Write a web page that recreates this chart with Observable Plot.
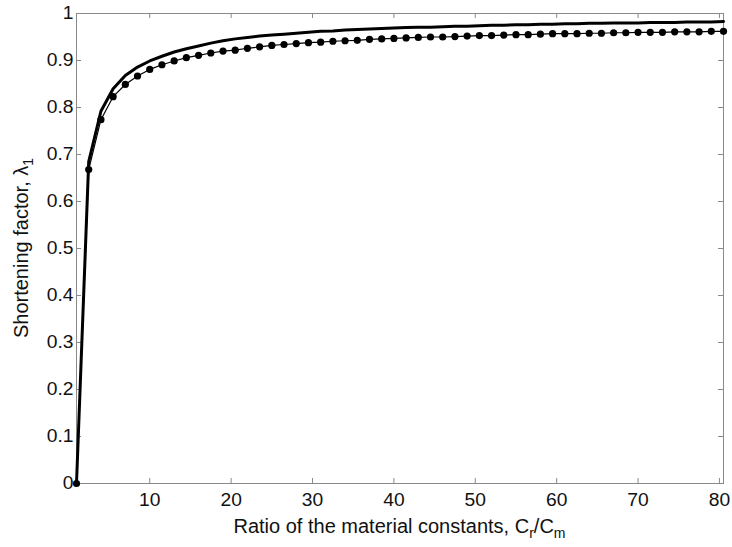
<!DOCTYPE html>
<html><head><meta charset="utf-8">
<script src="https://cdn.jsdelivr.net/npm/d3@7"></script>
<script src="https://cdn.jsdelivr.net/npm/@observablehq/plot@0.6"></script>
<style>body{margin:0;background:#fff}</style>
</head><body><div id="chart"></div>
<script>
const ratio = [1,2.5,4,5.5,7,8.5,10,11.5,13,14.5,16,17.5,19,20.5,22,23.5,25,26.5,28,29.5,31,32.5,34,35.5,37,38.5,40,41.5,43,44.5,46,47.5,49,50.5,52,53.5,55,56.5,58,59.5,61,62.5,64,65.5,67,68.5,70,71.5,73,74.5,76,77.5,79,80.5];
const solidSeries = [0,0.685,0.792,0.840,0.868,0.886,0.899,0.909,0.918,0.925,0.931,0.937,0.942,0.946,0.949,0.952,0.954,0.956,0.958,0.960,0.962,0.963,0.965,0.966,0.967,0.968,0.969,0.970,0.971,0.971,0.972,0.973,0.973,0.974,0.975,0.975,0.976,0.976,0.977,0.977,0.978,0.978,0.979,0.979,0.980,0.980,0.980,0.981,0.981,0.981,0.982,0.982,0.982,0.983];
const dottedSeries = [0,0.668,0.774,0.823,0.849,0.867,0.881,0.891,0.899,0.906,0.911,0.916,0.920,0.922,0.926,0.929,0.932,0.934,0.936,0.938,0.939,0.941,0.942,0.943,0.945,0.946,0.947,0.948,0.949,0.950,0.950,0.951,0.952,0.953,0.953,0.954,0.955,0.955,0.956,0.957,0.957,0.957,0.958,0.958,0.959,0.959,0.960,0.960,0.960,0.961,0.961,0.961,0.962,0.962];
const xTicks = [10,20,30,40,50,60,70,80];
const yTicks = [0,0.1,0.2,0.3,0.4,0.5,0.6,0.7,0.8,0.9,1];
const yTickLabels = ["0","0.1","0.2","0.3","0.4","0.5","0.6","0.7","0.8","0.9","1"];

const data = ratio.map((x,i)=>({x, solid: solidSeries[i], dotted: dottedSeries[i]}));

const W=732,H=547,mL=76,mR=9,mT=13,mB=64;
const innerW=W-mL-mR, innerH=H-mT-mB;
const axisColor="#8a8a8a";
const font="'Liberation Sans', Arial, sans-serif";

const chart = Plot.plot({
  width:W, height:H, marginLeft:mL, marginRight:mR, marginTop:mT, marginBottom:mB,
  style:{fontFamily:font, fontSize:"17.5px", background:"#fff", color:"#111"},
  x:{domain:[1,80.5]},
  y:{domain:[0,1]},
  marks:[
    Plot.frame({stroke:axisColor}),
    Plot.tickX(xTicks,{x:d=>d, stroke:axisColor, insetTop:innerH-5}),
    Plot.tickX(xTicks,{x:d=>d, stroke:axisColor, insetBottom:innerH-5}),
    Plot.tickY(yTicks,{y:d=>d, stroke:axisColor, insetRight:innerW-5}),
    Plot.tickY(yTicks,{y:d=>d, stroke:axisColor, insetLeft:innerW-5}),
    Plot.axisX({ticks:xTicks, tickSize:0, tickPadding:10, label:null, fontSize:17.5, tickFormat:d=>String(d)}),
    Plot.axisY({ticks:yTicks, tickSize:0, tickPadding:3, label:null, fontSize:17.5, tickFormat:d=>yTickLabels[yTicks.indexOf(d)]}),
    Plot.line(data,{x:"x", y:"dotted", stroke:"#000", strokeWidth:1.2}),
    Plot.line(data,{x:"x", y:"solid", stroke:"#000", strokeWidth:3}),
    Plot.dot(data,{x:"x", y:"dotted", r:3.6, fill:"#000", stroke:"none"})
  ]
});
document.getElementById("chart").appendChild(chart);

const svg = d3.select(chart);
// slight horizontal stretch of tick labels, as in the reference
svg.selectAll('g[aria-label="x-axis tick label"] text, g[aria-label="y-axis tick label"] text').each(function(){
  const len = this.getComputedTextLength();
  if (len > 0) { this.setAttribute("textLength", (len*1.1).toFixed(1)); this.setAttribute("lengthAdjust","spacingAndGlyphs"); }
});

const xl = svg.append("text").attr("x", mL+innerW/2).attr("y", 533)
  .attr("text-anchor","middle").attr("font-family",font).attr("font-size",20).attr("fill","#111");
xl.append("tspan").text("Ratio of the material constants, C");
xl.append("tspan").attr("dy",5).attr("font-size",14).text("r");
xl.append("tspan").attr("dy",-5).text("/C");
xl.append("tspan").attr("dy",5).attr("font-size",14).text("m");

const yl = svg.append("text").attr("transform",`translate(28,${mT+innerH/2}) rotate(-90)`)
  .attr("text-anchor","middle").attr("font-family",font).attr("font-size",20).attr("fill","#111");
yl.append("tspan").text("Shortening factor, λ");
yl.append("tspan").attr("dy",5).attr("font-size",14).text("1");
</script>
</body></html>
